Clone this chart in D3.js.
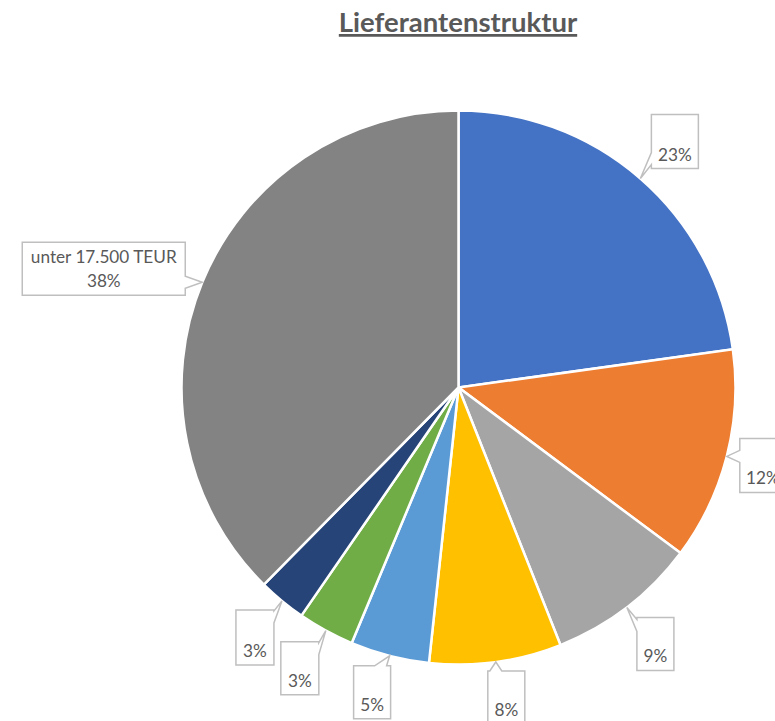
<!DOCTYPE html>
<html>
<head>
<meta charset="utf-8">
<script src="https://cdn.jsdelivr.net/npm/d3@7"></script>
<style>
  body { margin: 0; background: #fff; }
  svg { display: block; }
</style>
</head>
<body>
<svg id="chart" width="775" height="721"></svg>
<script>
// Lieferantenstruktur - Anteile je Lieferantengruppe
let categories = ["Lieferant 1", "Lieferant 2", "Lieferant 3", "Lieferant 4",
    "Lieferant 5", "Lieferant 6", "Lieferant 7", "unter 17.500 TEUR"];
let shares = [22.8, 12.4, 8.8, 7.7, 4.6, 3.3, 2.8, 37.6];
let colors = ["#4472C4", "#ED7D31", "#A5A5A5", "#FFC000", "#5B9BD5", "#70AD47", "#264478", "#838383"];
let showName = [false, false, false, false, false, false, false, true];

// callout box relative to the pointer tip: [dx, dy, width, height]
let boxLayout = [
    [11, -64, 47, 54],
    [13, -18, 46, 54],
    [10, 10, 37, 53],
    [-8, 9, 37, 53],
    [-36, 10, 37, 53],
    [-45, 11, 38, 53],
    [-46, 9, 38, 55],
    [-180, -40, 163, 53]
];

let pieInfo = {
    cx: 458.5,
    cy: 387.5,
    r: 277
}

let svg = d3.select("#chart");

svg.append("text")
    .attr("x", 458)
    .attr("y", 32)
    .attr("text-anchor", "middle")
    .style("font-family", "Lato, 'Open Sans', sans-serif")
    .style("font-weight", "bold")
    .style("font-size", "27.5px")
    .style("fill", "#595959")
    .style("text-decoration", "underline")
    .text("Lieferantenstruktur");

let data = categories.map((c, i) => {
    return {name: c, value: shares[i], color: colors[i], box: boxLayout[i], showName: showName[i]}
});

let pieGenerator = d3.pie()
    .sort(null)
    .value((d) => {
        return d.value
    });
let arcs = pieGenerator(data);

let arc = d3.arc()
    .innerRadius(0)
    .outerRadius(pieInfo.r);

let pieG = svg.append("g")
    .attr("transform", "translate(" + pieInfo.cx + "," + pieInfo.cy + ")");

pieG.selectAll("path")
    .data(arcs)
    .enter()
    .append("path")
    .attr("d", arc)
    .attr("fill", (d) => d.data.color)
    .style("stroke", "#fff")
    .style("stroke-width", 2.5);

// percentage as shown in Excel
let pct = d3.format(".0%");
let total = d3.sum(shares);

// callout shape: rectangle with a wedge pointing at the slice
let calloutPath = (t, b) => {
    let x = b[0], y = b[1], w = b[2], h = b[3];
    let hw = 6;
    let pts;
    if (t[0] < x) {
        let c = Math.max(y + hw + 2, Math.min(y + h - hw - 4, t[1]));
        pts = [[x, y], [x + w, y], [x + w, y + h], [x, y + h], [x, c + hw], t, [x, c - hw]];
    } else if (t[0] > x + w) {
        let c = Math.max(y + hw + 1, Math.min(y + h - hw - 4, t[1]));
        pts = [[x, y], [x + w, y], [x + w, c - hw], t, [x + w, c + hw], [x + w, y + h], [x, y + h]];
    } else if (t[1] < y) {
        let c = Math.max(x + hw + 2, Math.min(x + w - hw - 4, t[0]));
        pts = [[x, y], [c - hw, y], t, [c + hw, y], [x + w, y], [x + w, y + h], [x, y + h]];
    } else {
        let c = Math.max(x + hw + 2, Math.min(x + w - hw - 4, t[0]));
        pts = [[x, y], [x + w, y], [x + w, y + h], [c + hw, y + h], t, [c - hw, y + h], [x, y + h]];
    }
    return "M" + pts.map((p) => p.join(",")).join("L") + "Z";
}

let labelG = pieG.selectAll("g.label")
    .data(arcs)
    .enter()
    .append("g")
    .attr("class", "label");

labelG.each(function (d) {
    let g = d3.select(this);
    let mid = (d.startAngle + d.endAngle) / 2;
    let tip = [Math.sin(mid) * pieInfo.r, -Math.cos(mid) * pieInfo.r];
    let b = [tip[0] + d.data.box[0], tip[1] + d.data.box[1], d.data.box[2], d.data.box[3]];

    g.append("path")
        .attr("d", calloutPath(tip, b))
        .attr("fill", "#fff")
        .attr("stroke", "#BFBFBF")
        .attr("stroke-width", 1.5)
        .attr("stroke-linejoin", "miter");

    let lines = d.data.showName ? [d.data.name, pct(d.data.value / total)] : [pct(d.data.value / total)];
    let txt = g.append("text")
        .attr("text-anchor", "middle")
        .style("font-family", "Lato, 'Open Sans', sans-serif")
        .style("font-size", "17.2px")
        .style("fill", "#595959");
    lines.forEach((l, i) => {
        txt.append("tspan")
            .attr("x", b[0] + b[2] / 2)
            .attr("y", b[1] + b[3] - 8 - (lines.length - 1 - i) * 24)
            .text(l);
    });
});
</script>
</body>
</html>
